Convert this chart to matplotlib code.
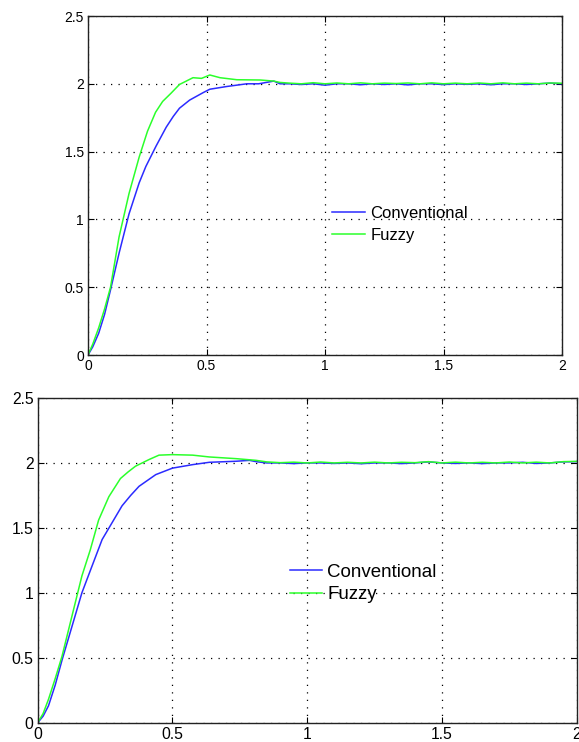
import numpy as np
import matplotlib.pyplot as plt

plt.rcParams['font.family'] = ['Liberation Sans', 'DejaVu Sans']

# steady-state part, shared time points
t_tail = [0.85, 0.9, 0.95, 1.0, 1.05, 1.1, 1.15, 1.2, 1.25, 1.3, 1.35, 1.4,
          1.45, 1.5, 1.55, 1.6, 1.65, 1.7, 1.75, 1.8, 1.85, 1.9, 1.95, 2.0]

# upper plot
t_conv_a = [0, 0.02, 0.045, 0.07, 0.095, 0.131, 0.173, 0.216, 0.244, 0.287, 0.33,
            0.36, 0.386, 0.429, 0.486, 0.514, 0.585, 0.67, 0.72, 0.784, 0.81]
conv_a = [0, 0.06, 0.16, 0.3, 0.48, 0.75, 1.04, 1.27, 1.39, 1.54, 1.68,
          1.76, 1.82, 1.88, 1.935, 1.96, 1.98, 2.0, 2.0, 2.02, 2.0]
t_fuzzy_a = [0, 0.02, 0.045, 0.07, 0.095, 0.131, 0.173, 0.216, 0.251, 0.285, 0.315,
             0.35, 0.386, 0.443, 0.479, 0.514, 0.557, 0.628, 0.727, 0.784, 0.81]
fuzzy_a = [0, 0.08, 0.2, 0.34, 0.50, 0.87, 1.19, 1.46, 1.65, 1.79, 1.87,
           1.93, 1.995, 2.045, 2.04, 2.065, 2.045, 2.03, 2.028, 2.02, 2.01]
conv_tail_a = [2.0, 1.995, 2.0, 1.99, 2.0, 2.0, 1.993, 2.0, 1.995, 2.0, 1.992, 2.0,
               2.0, 1.994, 2.0, 1.996, 2.0, 1.993, 2.0, 2.0, 1.995, 2.0, 2.005, 2.0]
fuzzy_tail_a = [2.005, 2.0, 2.008, 2.0, 2.006, 2.0, 2.007, 2.0, 2.005, 2.002, 2.006, 2.0,
                2.007, 2.0, 2.005, 2.0, 2.006, 2.0, 2.007, 2.0, 2.005, 2.0, 2.006, 2.004]

# lower plot
t_conv_b = [0, 0.02, 0.04, 0.065, 0.09, 0.127, 0.164, 0.195, 0.239, 0.276, 0.313,
            0.345, 0.376, 0.438, 0.5, 0.575, 0.637, 0.736, 0.786, 0.81]
conv_b = [0, 0.05, 0.13, 0.29, 0.48, 0.74, 1.0, 1.17, 1.41, 1.54, 1.67,
          1.75, 1.82, 1.91, 1.96, 1.987, 2.005, 2.013, 2.02, 2.01]
t_fuzzy_b = [0, 0.02, 0.04, 0.065, 0.09, 0.127, 0.164, 0.195, 0.226, 0.264, 0.307,
             0.335, 0.363, 0.413, 0.45, 0.5, 0.575, 0.637, 0.736, 0.81]
fuzzy_b = [0, 0.07, 0.18, 0.34, 0.51, 0.82, 1.13, 1.33, 1.56, 1.74, 1.88,
           1.93, 1.975, 2.026, 2.06, 2.064, 2.06, 2.046, 2.033, 2.02]
conv_tail_b = [2.0, 2.0, 1.995, 2.0, 2.0, 1.996, 2.0, 1.994, 2.0, 2.0, 1.995, 2.0,
               2.008, 2.0, 1.996, 2.0, 1.995, 2.0, 2.0, 2.005, 1.996, 2.0, 2.008, 2.01]
fuzzy_tail_b = [2.008, 2.002, 2.006, 2.0, 2.007, 2.0, 2.005, 2.0, 2.006, 2.0, 2.005, 2.002,
                2.01, 2.0, 2.006, 2.0, 2.005, 2.0, 2.007, 2.0, 2.006, 2.0, 2.01, 2.012]

blue = '#2b2bff'
green = '#2bff2b'

fig = plt.figure(figsize=(5.79, 7.42), dpi=100)
ax1 = fig.add_axes([88 / 579, 1 - 355 / 742, 474 / 579, 339 / 742])
ax2 = fig.add_axes([37.7 / 579, 1 - 722.7 / 742, 539 / 579, 324.7 / 742])


def panel(ax, tc, c, tf, f, ctail, ftail, fs, lfs, leg_anchor, hlen, lspace):
    ax.plot(tc + t_tail, c + ctail, color=blue, lw=1.1, label='Conventional')
    ax.plot(tf + t_tail, f + ftail, color=green, lw=1.1, label='Fuzzy')
    ax.set_xlim(0, 2)
    ax.set_ylim(0, 2.5)
    ax.set_xticks([0, 0.5, 1, 1.5, 2])
    ax.set_xticklabels(['0', '0.5', '1', '1.5', '2'])
    ax.set_yticks([0, 0.5, 1, 1.5, 2, 2.5])
    ax.set_yticklabels(['0', '0.5', '1', '1.5', '2', '2.5'])
    ax.grid(True, color='black', lw=0.9, linestyle=(0, (1, 5)))
    ax.tick_params(direction='in', length=4, width=0.8, top=True, right=True,
                   labelsize=fs, pad=3, colors='black')
    for s in ax.spines.values():
        s.set_linewidth(1.0)
        s.set_color('#222222')
    ax.legend(loc='upper left', bbox_to_anchor=leg_anchor, frameon=False,
              fontsize=lfs, handlelength=hlen, handletextpad=0.3,
              labelspacing=lspace, borderpad=0, borderaxespad=0)


panel(ax1, t_conv_a, conv_a, t_fuzzy_a, fuzzy_a, conv_tail_a, fuzzy_tail_a,
      10, 12, (0.515, 0.441), 2.0, 0.46)
panel(ax2, t_conv_b, conv_b, t_fuzzy_b, fuzzy_b, conv_tail_b, fuzzy_tail_b,
      11.3, 13.5, (0.468, 0.49), 1.7, 0.28)

fig.savefig('out.png', dpi=100)
